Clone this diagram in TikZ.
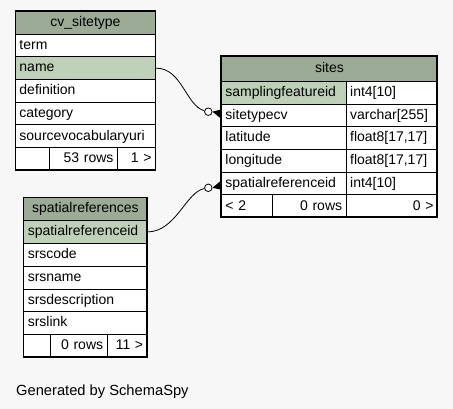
\documentclass[tikz,border=0pt]{standalone}
\usepackage{fontspec}
\setmainfont{Liberation Sans}
\usetikzlibrary{calc}
\definecolor{bg}{HTML}{F7F7F7}
\definecolor{head}{HTML}{9BAB96}
\definecolor{keyc}{HTML}{BED1B8}
\newcommand{\tabfont}{\fontsize{14}{16}\selectfont}
\tikzset{
  cell/.style={draw=black, line width=0.9pt, fill=white, anchor=north west, inner xsep=4pt, inner ysep=0pt,
    text height=10.5pt, text depth=3pt, font=\tabfont},
  lc/.style={cell, align=left},
  rc/.style={cell, align=right},
  cc/.style={cell, align=center, fill=head},
  conn/.style={line width=0.8pt, black},
  ring/.style={circle, draw=black, line width=0.8pt, fill=white, minimum size=7.5pt, inner sep=0pt},
}
\begin{document}
\begin{tikzpicture}[x=1pt,y=-1pt]
\fill[bg] (0,0) rectangle (453,409);
\useasboundingbox (0,0) rectangle (453,409);
% ---- cv_sitetype
\begin{scope}[every node/.append style={minimum height=22.7pt}]
\node[cc, text width=132pt] (cv-h) at (15,11) {cv\_sitetype};
\node[lc, text width=132pt] (cv-term) at (15,33.7) {term};
\node[lc, text width=132pt, fill=keyc] (cv-name) at (15,56.4) {name};
\node[lc, text width=132pt] (cv-def) at (15,79.1) {definition};
\node[lc, text width=132pt] (cv-cat) at (15,101.8) {category};
\node[lc, text width=132pt] (cv-src) at (15,124.5) {sourcevocabularyuri};
\node[lc, text width=26pt] (cv-f1) at (15,147.2) {};
\node[rc, text width=60pt] (cv-f2) at (49,147.2) {53 rows};
\node[rc, text width=30pt] (cv-f3) at (117,147.2) {1 >};
\end{scope}
\draw[line width=1pt] (15,11) rectangle (155,169.9);
% ---- sites
\node[cc, text width=208pt, minimum height=25pt] (st-h) at (221,56) {sites};
\begin{scope}[every node/.append style={minimum height=22.7pt}]
\node[lc, text width=116.7pt, fill=keyc] (st-sf) at (221,81) {samplingfeatureid};
\node[lc, text width=83.3pt] (st-sft) at (345.7,81) {int4[10]};
\node[lc, text width=116.7pt] (st-type) at (221,103.7) {sitetypecv};
\node[lc, text width=83.3pt] (st-typet) at (345.7,103.7) {varchar[255]};
\node[lc, text width=116.7pt] (st-lat) at (221,126.4) {latitude};
\node[lc, text width=83.3pt] (st-latt) at (345.7,126.4) {float8[17,17]};
\node[lc, text width=116.7pt] (st-lon) at (221,149.1) {longitude};
\node[lc, text width=83.3pt] (st-lont) at (345.7,149.1) {float8[17,17]};
\node[lc, text width=116.7pt] (st-sr) at (221,171.8) {spatialreferenceid};
\node[lc, text width=83.3pt] (st-srt) at (345.7,171.8) {int4[10]};
\node[lc, text width=43pt] (st-f1) at (221,194.5) {< 2};
\node[rc, text width=65.7pt] (st-f2) at (272,194.5) {0 rows};
\node[rc, text width=83.3pt] (st-f3) at (345.7,194.5) {0 >};
\end{scope}
\draw[line width=2.2pt] (221,56) rectangle (437,217.2);
% ---- spatialreferences
\begin{scope}[every node/.append style={minimum height=22.8pt}]
\node[cc, text width=115.4pt] (sr-h) at (23.3,197.3) {spatialreferences};
\node[lc, text width=115.4pt, fill=keyc] (sr-id) at (23.3,220.1) {spatialreferenceid};
\node[lc, text width=115.4pt] (sr-code) at (23.3,242.9) {srscode};
\node[lc, text width=115.4pt] (sr-name) at (23.3,265.7) {srsname};
\node[lc, text width=115.4pt] (sr-desc) at (23.3,288.5) {srsdescription};
\node[lc, text width=115.4pt] (sr-link) at (23.3,311.3) {srslink};
\node[lc, text width=19pt] (sr-f1) at (23.3,334.1) {};
\node[rc, text width=48.4pt] (sr-f2) at (50.3,334.1) {0 rows};
\node[rc, text width=32pt] (sr-f3) at (106.7,334.1) {11 >};
\end{scope}
\draw[line width=1pt] (23.3,197.3) rectangle (146.7,356.9);
% ---- connectors
\node[ring] (r1) at (208.3,111.7) {};
\node[ring] (r2) at (208.3,187.8) {};
\draw[conn] (cv-name.east) .. controls (182,67.8) and (186,106) .. (r1);
\fill (r1.east) -- ($(st-type.west)+(0,-6)$) -- ($(st-type.west)+(0,3)$) -- cycle;
\draw[conn] (sr-id.east) .. controls (176,231.5) and (186,192) .. (r2);
\fill (r2.east) -- ($(st-sr.west)+(0,-3)$) -- ($(st-sr.west)+(0,6)$) -- cycle;
% ---- footer text
\node[anchor=base west, inner sep=0pt, font=\fontsize{14.7}{17}\selectfont] (gen) at (16,395.5) {Generated by SchemaSpy};
\end{tikzpicture}
\end{document}
